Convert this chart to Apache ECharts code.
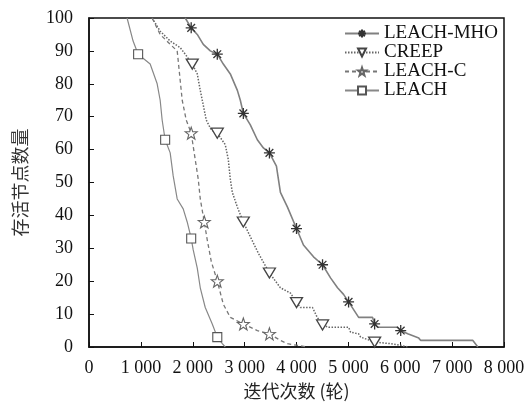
<!DOCTYPE html>
<html>
<head>
<meta charset="utf-8">
<script src="https://cdn.jsdelivr.net/npm/echarts@6/dist/echarts.min.js"></script>
<style>
  html, body { margin: 0; padding: 0; background: #fff; }
  #chart { width: 528px; height: 417px; }
</style>
</head>
<body>
<div id="chart"></div>
<script>
// 曲线数据 [迭代次数, 存活节点数量]
var mhoCurve = [[1855,100],[1970,97],[2087,95],[2203,92],[2338,90],[2473,89],[2589,86],[2724,83],[2860,78],[2917,75],[2975,71],[3110,67.5],[3245,63],[3362,60.5],[3478,59],[3613,55],[3651,51],[3690,47],[3826,42.5],[4000,36],[4134,31],[4270,28.5],[4328,27.4],[4502,25],[4656,21],[4791,18],[4907,16],[5004,13.7],[5198,9],[5467,9],[5506,7],[5564,6],[5950,6],[6009,5],[6144,4],[6357,2.7],[6395,2],[7400,2],[7496,0]];
var creepCurve = [[1217,100],[1372,96],[1565,93],[1758,91],[1855,89],[1990,86],[2087,83],[2145,78],[2203,73.5],[2260,69],[2357,66],[2473,65],[2627,61.5],[2685,57],[2724,51],[2763,47],[2860,42.5],[2975,38],[3110,33.5],[3265,28.5],[3478,22.5],[3690,18],[3883,16.4],[4000,13.5],[4077,12],[4308,12],[4400,9],[4502,6.7],[4618,6],[5004,6],[5043,4.5],[5198,4],[5236,3],[5506,1.5],[5815,1],[6009,0.5],[6144,0]];
var leachCCurve = [[1217,100],[1372,95],[1565,92],[1700,90],[1720,87],[1758,81],[1797,75],[1874,69],[1970,65],[2106,51],[2145,45],[2222,38],[2280,32.5],[2357,26],[2473,20],[2589,13],[2724,9],[2975,7],[3245,5],[3478,4],[3690,2],[3826,1],[4212,0]];
var leachCurve = [[734,100],[850,93],[947,89],[1179,86],[1314,80],[1372,75],[1410,69],[1468,63],[1565,59],[1623,52],[1700,45],[1816,42],[1893,38],[1970,33],[2009,29.5],[2087,24],[2145,18],[2241,12],[2376,7],[2473,3],[2570,1],[2627,0]];

// 标记点
var mhoMarks = [[1970,97],[2473,89],[2975,71],[3478,59],[4000,36],[4502,25],[5004,13.7],[5506,7],[6009,5]];
var creepMarks = [[1990,86],[2473,65],[2975,38],[3478,22.5],[4000,13.5],[4502,6.7],[5506,1.5]];
var leachCMarks = [[1970,65],[2222,38],[2473,20],[2975,7],[3478,4]];
var leachMarks = [[947,89],[1468,63],[1970,33],[2473,3]];

var xTicks = [0, 1000, 2000, 3000, 4000, 5000, 6000, 7000, 8000];

var starPath = 'path://M0,-10L2.35,-3.24L9.51,-3.09L3.8,1.24L5.88,8.09L0,4L-5.88,8.09L-3.8,1.24L-9.51,-3.09L-2.35,-3.24Z';
var asteriskPath = 'path://M0,-10L0,10M-10,0L10,0M-7,-7L7,7M-7,7L7,-7';

function buildData(curve, marks) {
  var isMark = function (p) {
    return marks.some(function (m) { return m[0] === p[0] && m[1] === p[1]; });
  };
  return curve.map(function (p) {
    return isMark(p) ? { value: p } : { value: p, symbol: 'none' };
  });
}

var serif = '"Liberation Serif", "Times New Roman", serif';
var cjk = '"Noto Sans CJK SC", sans-serif';

var chart = echarts.init(document.getElementById('chart'));
chart.setOption({
  animation: false,
  grid: {
    left: 89, right: 24, top: 18, bottom: 70,
    show: true, borderColor: '#111', borderWidth: 1.5, backgroundColor: 'transparent'
  },
  legend: {
    right: 30, top: 24, orient: 'vertical', padding: 0,
    itemWidth: 34, itemHeight: 10, itemGap: 0,
    textStyle: { fontFamily: serif, fontSize: 19, lineHeight: 18.5, color: '#111' },
    data: ['LEACH-MHO', 'CREEP', 'LEACH-C', 'LEACH']
  },
  xAxis: {
    type: 'value', min: 0, max: 8000, interval: 1000,
    name: '迭代次数 (轮)', nameLocation: 'middle', nameGap: 31,
    nameTextStyle: { fontFamily: cjk, fontSize: 18, color: '#222' },
    axisLine: { show: true, lineStyle: { color: '#111', width: 1.5 } },
    axisTick: { show: true, inside: true, length: 5, lineStyle: { color: '#111' } },
    axisLabel: {
      fontFamily: serif, fontSize: 18, color: '#111', margin: 12,
      formatter: function (v) {
        return xTicks.indexOf(v) >= 0 ? String(v).replace(/\B(?=(\d{3})+(?!\d))/g, ' ') : '';
      }
    },
    splitLine: { show: false }
  },
  yAxis: {
    type: 'value', min: 0, max: 100, interval: 10,
    name: '存活节点数量', nameLocation: 'middle', nameGap: 60,
    nameTextStyle: { fontFamily: cjk, fontSize: 18, color: '#333' },
    axisLine: { show: true, lineStyle: { color: '#111', width: 1.5 } },
    axisTick: { show: true, inside: true, length: 5, lineStyle: { color: '#111' } },
    axisLabel: { fontFamily: serif, fontSize: 18, color: '#111', margin: 16 },
    splitLine: { show: false }
  },
  series: [
    {
      name: 'LEACH-MHO', type: 'line', symbol: asteriskPath, symbolSize: 11,
      itemStyle: { color: 'none', borderColor: '#333', borderWidth: 1.3 },
      lineStyle: { color: '#808080', width: 1.6, type: 'solid' },
      data: buildData(mhoCurve, mhoMarks)
    },
    {
      name: 'CREEP', type: 'line', symbol: 'triangle', symbolRotate: 180, symbolSize: [12, 10],
      itemStyle: { color: '#fff', borderColor: '#444', borderWidth: 1.3 },
      lineStyle: { color: '#666', width: 1.5, type: [1.5, 1.5] },
      data: buildData(creepCurve, creepMarks)
    },
    {
      name: 'LEACH-C', type: 'line', symbol: starPath, symbolSize: 12,
      itemStyle: { color: '#fff', borderColor: '#666', borderWidth: 1.1 },
      lineStyle: { color: '#777', width: 1.3, type: [4, 3] },
      data: buildData(leachCCurve, leachCMarks)
    },
    {
      name: 'LEACH', type: 'line', symbol: 'rect', symbolSize: 9,
      itemStyle: { color: '#fff', borderColor: '#555', borderWidth: 1.1 },
      lineStyle: { color: '#888', width: 1.2, type: 'solid' },
      data: buildData(leachCurve, leachMarks)
    }
  ]
});
</script>
</body>
</html>
